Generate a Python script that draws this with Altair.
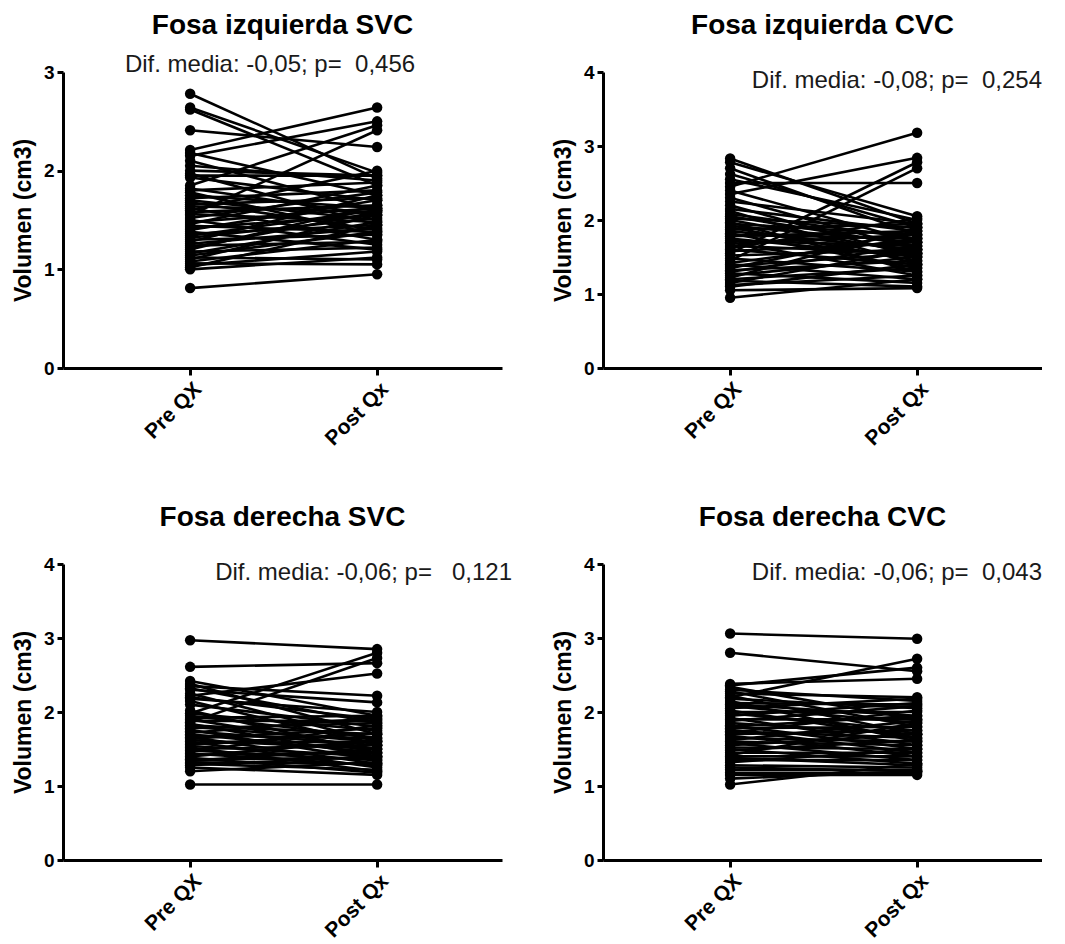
import altair as alt
import pandas as pd

conditions = ["Pre QX", "Post Qx"]
panel_titles = ["Fosa izquierda SVC", "Fosa izquierda CVC", "Fosa derecha SVC", "Fosa derecha CVC"]
NB = "\u00a0"
panel_notes = [
    f"Dif. media: -0,05; p={NB}{NB}0,456",
    f"Dif. media: -0,08; p={NB}{NB}0,254",
    f"Dif. media: -0,06; p={NB}{NB}{NB}0,121",
    f"Dif. media: -0,06; p={NB}{NB}0,043",
]
y_max = [3, 4, 4, 4]

izq_svc_pre = [2.78, 2.64, 2.62, 2.41, 2.21, 2.18, 2.15, 2.10, 2.05, 2.00, 1.97, 1.95, 1.93, 1.85,
               1.82, 1.80, 1.78, 1.75, 1.72, 1.70, 1.68, 1.66, 1.64, 1.62, 1.60, 1.58, 1.56, 1.55,
               1.52, 1.50, 1.48, 1.46, 1.44, 1.42, 1.40, 1.38, 1.36, 1.34, 1.32, 1.30, 1.28, 1.26,
               1.24, 1.22, 1.20, 1.18, 1.16, 1.14, 1.12, 1.10, 1.08, 1.06, 1.04, 1.02, 1.00, 0.81]
izq_svc_post = [1.92, 1.98, 1.85, 2.24, 2.64, 1.75, 2.50, 1.60, 1.90, 1.95, 1.45, 1.95, 1.70, 2.46,
                1.55, 1.88, 1.35, 1.62, 1.80, 1.50, 1.40, 1.72, 1.58, 1.30, 2.00, 1.65, 1.48, 2.41,
                1.78, 1.25, 1.62, 1.85, 1.38, 1.55, 1.70, 1.20, 1.45, 1.60, 1.52, 1.35, 1.75, 1.42,
                1.28, 1.58, 1.65, 1.22, 1.48, 1.38, 1.10, 1.55, 1.30, 1.05, 1.18, 1.45, 1.12, 0.95]

izq_cvc_pre = [2.83, 2.78, 2.70, 2.62, 2.55, 2.50, 2.45, 2.40, 2.35, 2.30, 2.25, 2.20, 2.15, 2.12,
               2.08, 2.05, 2.02, 2.00, 1.97, 1.95, 1.92, 1.90, 1.87, 1.85, 1.82, 1.80, 1.78, 1.75,
               1.72, 1.70, 1.68, 1.65, 1.62, 1.60, 1.58, 1.55, 1.52, 1.48, 1.45, 1.42, 1.40, 1.38,
               1.35, 1.32, 1.30, 1.28, 1.25, 1.22, 1.20, 1.18, 1.15, 1.12, 1.10, 1.05, 0.95]
izq_cvc_post = [1.95, 2.05, 1.80, 1.90, 2.00, 2.50, 3.18, 1.70, 2.84, 1.60, 1.95, 1.50, 1.85, 1.40,
                1.75, 1.65, 1.90, 1.55, 1.30, 1.80, 1.70, 1.45, 1.95, 1.60, 1.35, 1.75, 1.85, 1.50,
                1.65, 1.25, 1.80, 1.55, 2.02, 1.40, 1.70, 2.78, 1.60, 1.30, 2.70, 1.75, 1.20, 1.55,
                1.85, 1.45, 1.65, 1.15, 1.50, 1.90, 1.35, 1.10, 1.60, 1.25, 1.40, 1.08, 1.20]

der_svc_pre = [2.97, 2.61, 2.42, 2.38, 2.35, 2.32, 2.30, 2.25, 2.22, 2.20, 2.18, 2.15, 2.10, 2.02,
               1.98, 1.95, 1.92, 1.90, 1.88, 1.86, 1.84, 1.82, 1.80, 1.78, 1.76, 1.74, 1.72, 1.70,
               1.68, 1.66, 1.64, 1.62, 1.60, 1.58, 1.56, 1.54, 1.52, 1.50, 1.48, 1.46, 1.44, 1.42,
               1.40, 1.38, 1.36, 1.34, 1.32, 1.30, 1.28, 1.25, 1.20, 1.02, 1.98]
der_svc_post = [2.85, 2.66, 1.95, 1.70, 2.22, 1.85, 2.13, 1.60, 2.52, 1.90, 2.00, 1.55, 1.80, 1.45,
                1.75, 1.65, 1.95, 1.50, 1.88, 2.73, 1.40, 1.70, 1.60, 1.85, 1.35, 1.55, 1.92, 1.45,
                1.65, 1.30, 1.78, 1.50, 1.25, 1.60, 1.72, 1.40, 1.20, 1.55, 1.35, 1.82, 1.28, 1.45,
                1.62, 1.18, 1.38, 1.50, 1.30, 1.22, 1.40, 1.15, 1.32, 1.02, 2.80]

der_cvc_pre = [3.06, 2.80, 2.38, 2.36, 2.34, 2.30, 2.28, 2.25, 2.22, 2.20, 2.18, 2.15, 2.12, 2.10,
               2.08, 2.05, 2.02, 2.00, 1.98, 1.95, 1.92, 1.90, 1.88, 1.85, 1.82, 1.80, 1.78, 1.76,
               1.74, 1.72, 1.70, 1.68, 1.65, 1.62, 1.60, 1.58, 1.55, 1.52, 1.50, 1.48, 1.45, 1.42,
               1.40, 1.38, 1.35, 1.32, 1.28, 1.25, 1.22, 1.18, 1.15, 1.10, 1.02]
der_cvc_post = [2.99, 2.55, 2.45, 2.60, 1.90, 2.15, 1.80, 2.20, 1.70, 2.72, 2.05, 1.60, 2.10, 1.95,
                1.85, 2.18, 1.65, 2.00, 1.75, 2.12, 1.55, 1.90, 2.08, 1.70, 1.50, 1.95, 1.80, 1.45,
                1.65, 2.02, 1.75, 1.40, 1.60, 1.88, 1.55, 1.35, 1.70, 1.50, 1.30, 1.62, 1.45, 1.85,
                1.40, 1.28, 1.35, 1.50, 1.25, 1.20, 1.22, 1.18, 1.15, 1.20, 1.30]

series = [(izq_svc_pre, izq_svc_post), (izq_cvc_pre, izq_cvc_post),
          (der_svc_pre, der_svc_post), (der_cvc_pre, der_cvc_post)]

FONT = "Liberation Sans"
W, H = 439, 296
label_expr = " : ".join(
    [f"datum.value == {i} ? '{c}'" for i, c in enumerate(conditions[:-1])] + [f"'{conditions[-1]}'"]
)


def panel(k, note_x, note_y, note_align):
    pre, post = series[k]
    rows = []
    for i, (a, b) in enumerate(zip(pre, post)):
        rows.append({"id": i, "cond": 0, "v": a})
        rows.append({"id": i, "cond": 1, "v": b})
    df = pd.DataFrame(rows)
    x = alt.X("cond:Q",
              scale=alt.Scale(domain=[-0.68, 1.668], nice=False, zero=False),
              axis=alt.Axis(values=[0, 1], labelExpr=label_expr, title=None))
    y = alt.Y("v:Q",
              scale=alt.Scale(domain=[0, y_max[k]], nice=False, zero=True),
              axis=alt.Axis(values=list(range(y_max[k] + 1)), format="d", title="Volumen (cm3)"))
    base = alt.Chart(df)
    lines = base.mark_line(color="black", strokeWidth=2.6).encode(x=x, y=y, detail="id:N")
    pts = base.mark_circle(color="black", opacity=1, size=110).encode(x=x, y=y)
    txt = alt.Chart(pd.DataFrame({"t": [panel_notes[k]]})).mark_text(
        font=FONT, fontSize=24, color="#1a1a1a", align=note_align, baseline="alphabetic"
    ).encode(x=alt.value(note_x), y=alt.value(note_y), text="t:N")
    ttl = alt.Chart(pd.DataFrame({"t": [panel_titles[k]]})).mark_text(
        font=FONT, fontSize=28, fontWeight="bold", color="black", align="center",
        baseline="alphabetic"
    ).encode(x=alt.value(W / 2), y=alt.value(-38), text="t:N")
    return alt.layer(lines, pts, txt, ttl).properties(width=W, height=H)


p1 = panel(0, 207, 0, "center")
p2 = panel(1, 439, 16, "right")
p3 = panel(2, 449, 16, "right")
p4 = panel(3, 439, 16, "right")

chart = alt.vconcat(
    alt.hconcat(p1, p2, spacing=50),
    alt.hconcat(p3, p4, spacing=40),
    spacing=55,
    padding={"left": 4, "top": 4, "right": 0, "bottom": 0},
).configure_view(
    stroke=None
).configure_axis(
    grid=False, domainColor="black", domainWidth=3, tickColor="black", tickWidth=3,
    labelColor="black", labelFont=FONT, labelFontWeight="bold", titleFont=FONT,
    titleFontWeight="bold", titleColor="black"
).configure_axisX(
    labelAngle=-45, labelFontSize=21, tickSize=7, labelPadding=3
).configure_axisY(
    labelFontSize=19, titleFontSize=23, tickSize=6, labelPadding=3, titlePadding=8
)

chart.save("out.html", embed_options={"renderer": "svg", "actions": False})
